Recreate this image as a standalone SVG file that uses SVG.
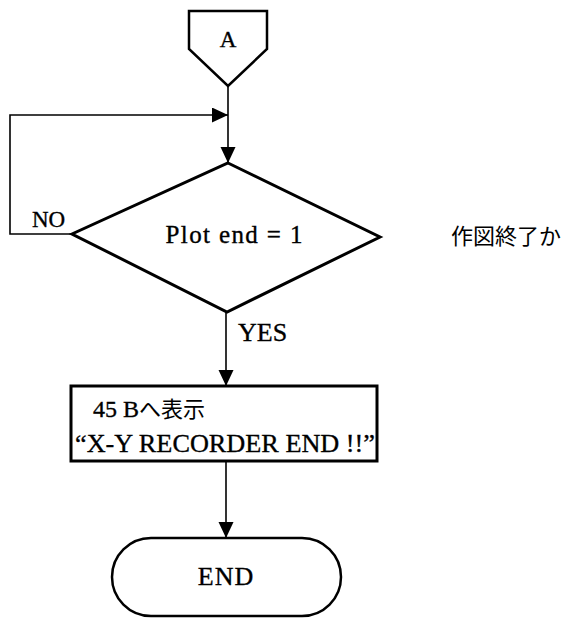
<svg xmlns="http://www.w3.org/2000/svg" width="569" height="621" viewBox="0 0 569 621">
<style>
.shape{fill:#fff;stroke:#000;stroke-linejoin:miter}
.line{fill:none;stroke:#000;stroke-width:1.6}
.t{font-family:"Liberation Serif","Noto Sans CJK JP",serif;fill:#000;stroke:#000;stroke-width:0.35}
.j{font-family:"Noto Sans CJK JP",sans-serif;fill:#000;stroke:none}
</style>
<defs>
<marker id="ah" markerUnits="userSpaceOnUse" markerWidth="18" markerHeight="16" refX="16" refY="7.5" orient="auto">
<path d="M0,0 L16,7.5 L0,15 Z" fill="#000"/>
</marker>
</defs>
<rect width="569" height="621" fill="#fff"/>
<g id="connectors">
<line class="line" x1="228" y1="86" x2="228" y2="163" marker-end="url(#ah)"/>
<polyline class="line" points="72,234 10,234 10,115 228,115" marker-end="url(#ah)"/>
<line class="line" x1="226" y1="312" x2="226" y2="386" marker-end="url(#ah)"/>
<line class="line" x1="226" y1="461" x2="226" y2="538" marker-end="url(#ah)"/>
</g>
<g id="connector-A">
<polygon class="shape" stroke-width="2.5" points="189,11 267,11 267,49 228,86 189,49"/>
<text class="t" x="228" y="47" font-size="23" text-anchor="middle">A</text>
</g>
<g id="decision">
<polygon class="shape" stroke-width="3" points="228,163 380,237 227,312 72,234"/>
<text class="t" x="234" y="243" font-size="25" text-anchor="middle" textLength="137" lengthAdjust="spacing">Plot end = 1</text>
</g>
<g id="note">
<text class="j" x="451" y="244" font-size="22" textLength="110" lengthAdjust="spacing">作図終了か</text>
</g>
<g id="label-no">
<text class="t" x="32" y="227" font-size="23">NO</text>
</g>
<g id="label-yes">
<text class="t" x="238" y="341" font-size="26">YES</text>
</g>
<g id="process">
<rect class="shape" stroke-width="3" x="71" y="386" width="306" height="75"/>
<text class="t" x="93" y="417" font-size="24">45 B<tspan class="j" font-size="22">へ表示</tspan></text>
<text class="t" x="75" y="452" font-size="26" textLength="300" lengthAdjust="spacingAndGlyphs">“X-Y RECORDER END !!”</text>
</g>
<g id="terminator">
<rect class="shape" stroke-width="2.5" x="112" y="538" width="229" height="78" rx="39" ry="39"/>
<text class="t" x="226" y="585" font-size="26" text-anchor="middle" letter-spacing="1">END</text>
</g>
</svg>
